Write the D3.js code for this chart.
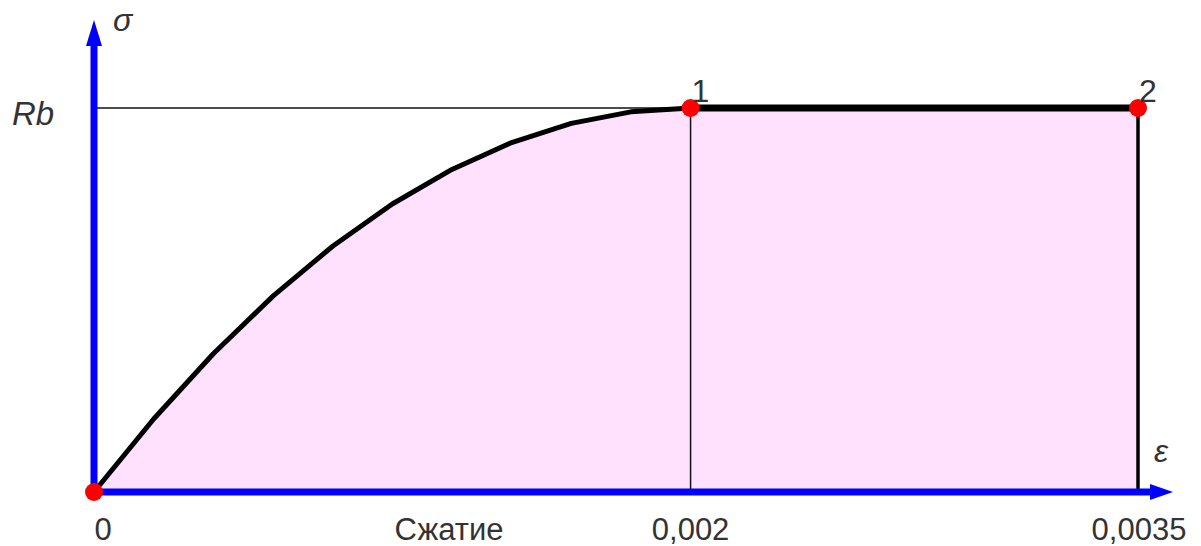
<!DOCTYPE html>
<html><head><meta charset="utf-8">
<script src="https://cdn.jsdelivr.net/npm/d3@7"></script>
<style>html,body{margin:0;padding:0;background:#fff;}svg{display:block;}</style>
</head><body>
<svg id="c" width="1201" height="546"></svg>
<script>
// Data
const strain = [0, 0.0002, 0.0004, 0.0006, 0.0008, 0.001, 0.0012, 0.0014, 0.0016, 0.0018, 0.002];
const stressRel = [0, 0.19, 0.36, 0.51, 0.64, 0.75, 0.84, 0.91, 0.96, 0.99, 1.0];
const plateau = [[0.002, 1.0], [0.0035, 1.0]];
const keyPoints = [[0, 0], [0.002, 1.0], [0.0035, 1.0]];
const pointLabels = ["", "1", "2"];
const xTicks = [0, 0.002, 0.0035];
const xTickLabels = ["0", "0,002", "0,0035"];
const yTickLabel = "Rb";
const xAxisTitle = "Сжатие";

const svg = d3.select("#c");
const x = d3.scaleLinear().domain([0, 0.0035]).range([94, 1138]);
const y = d3.scaleLinear().domain([0, 1]).range([492, 108]);
const txt = "#333";
const font = "Liberation Sans, Arial, sans-serif";

// fill
const area = strain.map((s, i) => [s, stressRel[i]]).concat([[0.0035, 1.0], [0.0035, 0]]);
svg.append("path")
  .attr("d", d3.line().x(d => x(d[0])).y(d => y(d[1]))(area) + "Z")
  .attr("fill", "#FFE1FE").attr("stroke", "none");

// thin guide lines
svg.append("line").attr("x1", x(0)).attr("x2", x(0.002)).attr("y1", y(1)).attr("y2", y(1))
  .attr("stroke", "#111").attr("stroke-width", 1.5);
svg.append("line").attr("x1", x(0.002)).attr("x2", x(0.002)).attr("y1", y(1)).attr("y2", y(0))
  .attr("stroke", "#111").attr("stroke-width", 1.5);
// right vertical
svg.append("line").attr("x1", x(0.0035)).attr("x2", x(0.0035)).attr("y1", y(1)).attr("y2", y(0))
  .attr("stroke", "#000").attr("stroke-width", 3.5);

// curve
svg.append("path")
  .attr("d", d3.line().x(d => x(d)).y((d, i) => y(stressRel[i]))(strain))
  .attr("fill", "none").attr("stroke", "#000").attr("stroke-width", 5).attr("stroke-linejoin", "round");
// plateau
svg.append("path")
  .attr("d", d3.line().x(d => x(d[0])).y(d => y(d[1]))(plateau))
  .attr("fill", "none").attr("stroke", "#000").attr("stroke-width", 7);

// axes (blue)
const blue = "#0000FF";
svg.append("line").attr("x1", x(0)).attr("x2", x(0)).attr("y1", y(0) + 3).attr("y2", 40)
  .attr("stroke", blue).attr("stroke-width", 7);
svg.append("path").attr("d", `M${x(0)},20 L${x(0) + 8},46 L${x(0) - 8},46 Z`).attr("fill", blue);
svg.append("line").attr("x1", x(0) - 3).attr("x2", 1155).attr("y1", y(0)).attr("y2", y(0))
  .attr("stroke", blue).attr("stroke-width", 7);
svg.append("path").attr("d", `M1173,${y(0)} L1150,${y(0) - 8} L1150,${y(0) + 8} Z`).attr("fill", blue);

// key points
svg.selectAll("circle.k").data(keyPoints).enter().append("circle")
  .attr("cx", d => x(d[0])).attr("cy", d => y(d[1])).attr("r", 9).attr("fill", "#FF0000");

// point labels
svg.selectAll("text.pl").data(keyPoints).enter().append("text")
  .attr("x", d => x(d[0]) + 1).attr("y", d => y(d[1]) - 6)
  .attr("font-family", font).attr("font-size", 32).attr("fill", txt)
  .text((d, i) => pointLabels[i]);

// x tick labels
svg.selectAll("text.xt").data(xTicks).enter().append("text")
  .attr("x", (d, i) => i === 0 ? x(d) + 9 : (i === 2 ? x(d) + 1 : x(d)))
  .attr("y", 540)
  .attr("text-anchor", "middle")
  .attr("font-family", font).attr("font-size", 31).attr("fill", txt)
  .text((d, i) => xTickLabels[i]);

svg.append("text").attr("x", 449).attr("y", 540).attr("text-anchor", "middle")
  .attr("font-family", font).attr("font-size", 31).attr("fill", txt).text(xAxisTitle);

// y label
svg.append("text").attr("x", 12).attr("y", y(1) + 17)
  .attr("font-family", font).attr("font-size", 33).attr("font-style", "italic").attr("fill", txt).text(yTickLabel);

// axis symbols
svg.append("text").attr("x", 113).attr("y", 31)
  .attr("font-family", font).attr("font-size", 32).attr("font-style", "italic").attr("fill", txt).text("σ");
svg.append("text").attr("x", 1154).attr("y", 462)
  .attr("font-family", font).attr("font-size", 32).attr("font-style", "italic").attr("fill", txt).text("ε");
</script>
</body></html>
